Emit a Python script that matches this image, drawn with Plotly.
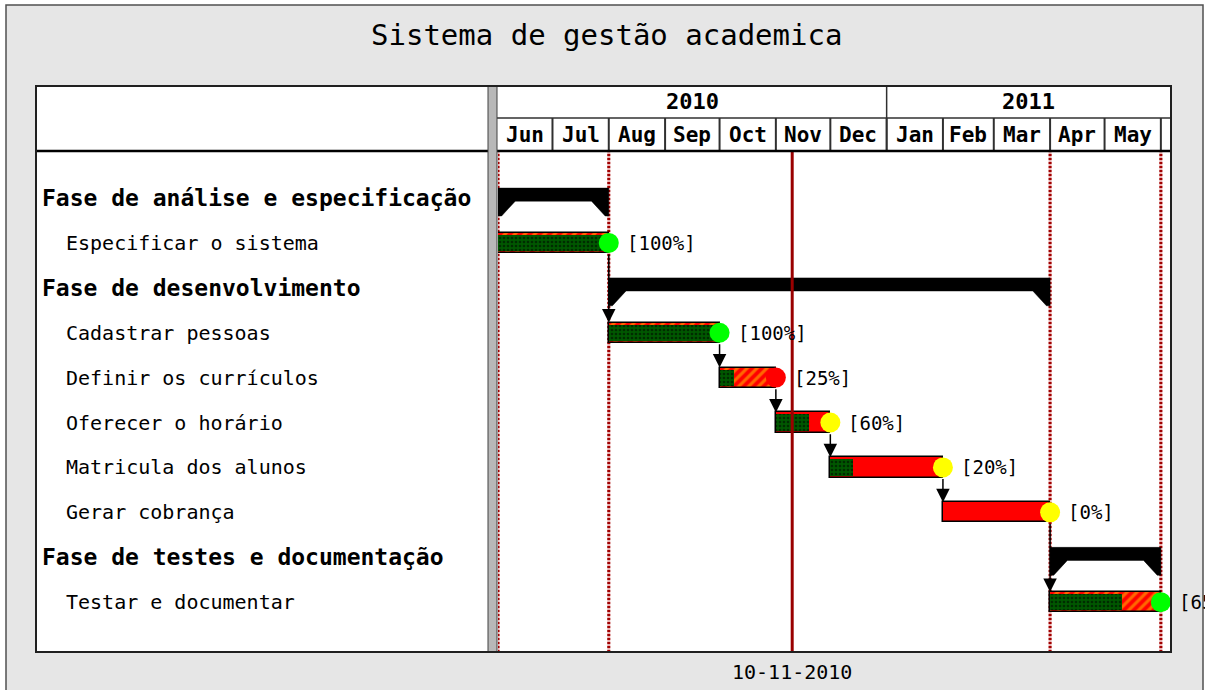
import pandas as pd
import plotly.graph_objects as go

# ---------------- data ----------------
TITLE = "Sistema de gestão academica"

row_labels = [
    "Fase de análise e especificação",
    "Especificar o sistema",
    "Fase de desenvolvimento",
    "Cadastrar pessoas",
    "Definir os currículos",
    "Oferecer o horário",
    "Matricula dos alunos",
    "Gerar cobrança",
    "Fase de testes e documentação",
    "Testar e documentar",
]
row_is_group = [True, False, True, False, False, False, False, False, True, False]

group_rows = [0, 2, 8]
group_start = ["2010-06-01", "2010-08-01", "2011-04-01"]
group_end = ["2010-08-01", "2011-04-01", "2011-06-01"]

task_rows = [1, 3, 4, 5, 6, 7, 9]
task_start = ["2010-06-01", "2010-08-01", "2010-10-01", "2010-11-01",
              "2010-12-01", "2011-02-01", "2011-04-01"]
task_end = ["2010-08-01", "2010-10-01", "2010-11-01", "2010-12-01",
            "2011-02-01", "2011-04-01", "2011-06-01"]
task_progress = [1.00, 1.00, 0.25, 0.60, 0.20, 0.00, 0.65]
task_hatch = ["/", "/", "/", "", "", "", "/"]
milestone_colors = ["#00ff00", "#00ff00", "#ff0000", "#ffff00",
                    "#ffff00", "#ffff00", "#00ff00"]
dep_from = [0, 1, 2, 3, 4, 5]
dep_to = [1, 2, 3, 4, 5, 6]

month_labels = ["Jun", "Jul", "Aug", "Sep", "Oct", "Nov", "Dec",
                "Jan", "Feb", "Mar", "Apr", "May"]
month_starts = ["2010-06-01", "2010-07-01", "2010-08-01", "2010-09-01",
                "2010-10-01", "2010-11-01", "2010-12-01", "2011-01-01",
                "2011-02-01", "2011-03-01", "2011-04-01", "2011-05-01",
                "2011-06-01"]
year_labels = ["2010", "2011"]
year_bounds = ["2010-06-01", "2011-01-01", "2011-06-06 14:00"]
phase_lines = ["2010-06-01", "2010-08-01", "2011-04-01", "2011-06-01"]
today = "2010-11-10"
today_text = "10-11-2010"
x_range = ["2010-06-01", "2011-06-06 14:00"]

# ---------------- layout helpers ----------------
W, H = 1205, 690
L, R, T, B = 498, 1171, 152, 652
FONT = "DejaVu Sans Mono"


def px(x):
    return (x - L) / (R - L)


def py(y):
    return (B - y) / (B - T)


def ts(s):
    return pd.Timestamp(s)


def iso(t):
    return t.strftime("%Y-%m-%d %H:%M:%S")


BAR_W = 0.45
PROG_W = 0.36
SUM_TOP, SUM_MID, SUM_BOT = -0.22, 0.07, 0.40
SLANT = pd.Timedelta(days=9.5)
TIP = pd.Timedelta(days=2)

fig = go.Figure()

# summary (group) bars
for r, s, e in zip(group_rows, group_start, group_end):
    s, e = ts(s), ts(e)
    xs = [s, e, e, e - TIP, e - SLANT, s + SLANT, s + TIP, s, s]
    ys = [r + SUM_TOP, r + SUM_TOP, r + SUM_BOT, r + SUM_BOT, r + SUM_MID,
          r + SUM_MID, r + SUM_BOT, r + SUM_BOT, r + SUM_TOP]
    fig.add_trace(go.Scatter(x=[iso(v) for v in xs], y=ys, mode="lines",
                             fill="toself", fillcolor="black",
                             line=dict(color="black", width=0.5),
                             hoverinfo="skip"))

# task bars
dur_ms = [(ts(e) - ts(s)).total_seconds() * 1000 for s, e in zip(task_start, task_end)]
fig.add_trace(go.Bar(
    orientation="h", y=task_rows, x=dur_ms, base=task_start, width=BAR_W,
    marker=dict(color="#ff0000", line=dict(color="black", width=1.5),
                pattern=dict(shape=task_hatch, fgcolor="#ffd000",
                             bgcolor="#ff0000", size=7, solidity=0.45)),
    hoverinfo="skip"))

# progress
prog_ms = [d * p for d, p in zip(dur_ms, task_progress)]
fig.add_trace(go.Bar(
    orientation="h", y=task_rows, x=prog_ms, base=task_start, width=PROG_W,
    marker=dict(color="#005800", line=dict(width=0),
                pattern=dict(shape=".", fgcolor="black", bgcolor="#005800",
                             size=4, solidity=0.35)),
    hoverinfo="skip"))

# milestones at task ends
fig.add_trace(go.Scatter(
    x=task_end, y=task_rows, mode="markers",
    marker=dict(symbol="circle", size=20, color=milestone_colors, line=dict(width=0)),
    hoverinfo="skip"))

annotations = []
shapes = []

# percent labels
for r, e, p in zip(task_rows, task_end, task_progress):
    annotations.append(dict(x=e, y=r, xref="x", yref="y", xanchor="left",
                            yanchor="middle", xshift=16, showarrow=False,
                            text=f"[{round(p * 100)}%]",
                            font=dict(family=FONT, size=19, color="black")))

# dependency arrows
for a, b in zip(dep_from, dep_to):
    annotations.append(dict(x=task_end[a], y=task_rows[b] - BAR_W / 2,
                            ax=task_end[a], ay=task_rows[a] + BAR_W / 2,
                            xref="x", yref="y", axref="x", ayref="y",
                            showarrow=True, arrowhead=2, arrowsize=1.8,
                            arrowwidth=1.5, arrowcolor="black", text="",
                            standoff=0, startstandoff=0))

# background panels
shapes.append(dict(type="rect", xref="paper", yref="paper",
                   x0=px(6), x1=px(1203), y0=py(720), y1=py(5),
                   fillcolor="#e6e6e6", line=dict(color="#505050", width=1.5),
                   layer="below"))
shapes.append(dict(type="rect", xref="paper", yref="paper",
                   x0=px(36), x1=px(1171), y0=py(652), y1=py(86),
                   fillcolor="white", line=dict(width=0), layer="below"))

# phase dotted lines
for d in phase_lines:
    shapes.append(dict(type="line", xref="x", yref="paper", x0=d, x1=d, y0=0, y1=1,
                       line=dict(color="#e8b0b0", width=3), layer="below"))
    shapes.append(dict(type="line", xref="x", yref="paper", x0=d, x1=d, y0=0, y1=1,
                       line=dict(color="#a00000", width=3, dash="2px,2px"),
                       layer="below"))

# today line
shapes.append(dict(type="line", xref="x", yref="paper", x0=today, x1=today,
                   y0=0, y1=1, line=dict(color="#990000", width=3), layer="above"))
annotations.append(dict(x=today, y=py(672), xref="x", yref="paper",
                        xanchor="center", yanchor="middle",
                        showarrow=False, text=today_text,
                        font=dict(family=FONT, size=20, color="black")))

# header: year row / month row
shapes.append(dict(type="line", xref="paper", yref="paper", x0=px(497), x1=px(1171),
                   y0=py(118), y1=py(118), line=dict(color="#303030", width=1.5),
                   layer="above"))
shapes.append(dict(type="line", xref="x", yref="paper", x0=year_bounds[1],
                   x1=year_bounds[1], y0=py(151), y1=py(86),
                   line=dict(color="#303030", width=1.5), layer="above"))
for i, lab in enumerate(year_labels):
    mid = ts(year_bounds[i]) + (ts(year_bounds[i + 1]) - ts(year_bounds[i])) / 2
    annotations.append(dict(x=iso(mid), y=py(102), xref="x", yref="paper",
                            xanchor="center", yanchor="middle",
                            showarrow=False, text=f"<b>{lab}</b>",
                            font=dict(family=FONT, size=22, color="black")))
for d in month_starts[1:]:
    shapes.append(dict(type="line", xref="x", yref="paper", x0=d, x1=d,
                       y0=py(151), y1=py(118),
                       line=dict(color="#303030", width=2), layer="above"))
for i, lab in enumerate(month_labels):
    mid = ts(month_starts[i]) + (ts(month_starts[i + 1]) - ts(month_starts[i])) / 2
    annotations.append(dict(x=iso(mid), y=py(135), xref="x", yref="paper",
                            xanchor="center", yanchor="middle",
                            showarrow=False, text=f"<b>{lab}</b>",
                            font=dict(family=FONT, size=21, color="black")))

# header bottom thick line
shapes.append(dict(type="line", xref="paper", yref="paper", x0=px(36), x1=px(1171),
                   y0=py(151), y1=py(151), line=dict(color="black", width=2.5),
                   layer="above"))

# left divider band
shapes.append(dict(type="rect", xref="paper", yref="paper", x0=px(488), x1=px(497),
                   y0=py(652), y1=py(86), fillcolor="#b8b8b8",
                   line=dict(color="#404040", width=1), layer="above"))

# outer frame
shapes.append(dict(type="rect", xref="paper", yref="paper", x0=px(36), x1=px(1171),
                   y0=py(652), y1=py(86), fillcolor="rgba(0,0,0,0)",
                   line=dict(color="#202020", width=2), layer="above"))

# row labels
for i, (lab, grp) in enumerate(zip(row_labels, row_is_group)):
    annotations.append(dict(x=px(40 if grp else 64), y=i, xref="paper", yref="y",
                            xanchor="left", yanchor="middle", showarrow=False,
                            text=f"<b>{lab}</b>" if grp else lab,
                            font=dict(family=FONT, size=23 if grp else 20,
                                      color="black")))

# title
annotations.append(dict(x=px(606), y=py(35), xref="paper", yref="paper",
                        xanchor="center", yanchor="middle",
                        showarrow=False, text=TITLE,
                        font=dict(family=FONT, size=29, color="black")))

fig.update_layout(
    width=W, height=H, autosize=False,
    margin=dict(l=L, r=W - R, t=T, b=H - B, pad=0),
    paper_bgcolor="white", plot_bgcolor="rgba(0,0,0,0)",
    showlegend=False, barmode="overlay", bargap=0,
    xaxis=dict(type="date", range=x_range, showgrid=False, zeroline=False,
               showticklabels=False, showline=False, ticks="", fixedrange=True),
    yaxis=dict(range=[10.11, -1.024], showgrid=False, zeroline=False,
               showticklabels=False, showline=False, ticks="", fixedrange=True),
    shapes=shapes, annotations=annotations,
)

fig.write_html("out.html", config={"displayModeBar": False},
               post_script="document.body.style.margin='0';document.body.style.padding='0';")
